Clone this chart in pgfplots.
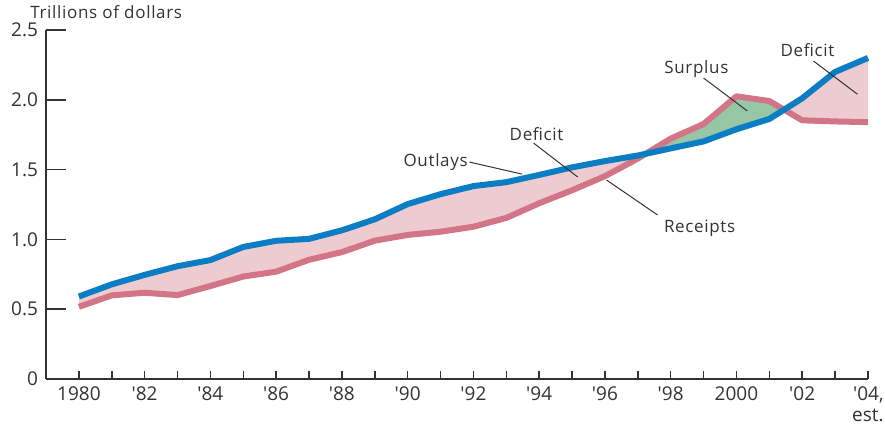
\documentclass[border=0pt]{standalone}
\usepackage{fontspec}
\setmainfont{Open Sans}[LetterSpace=4]
\newfontfamily\tickfont{Open Sans}
\usepackage{pgfplots}
\pgfplotsset{compat=1.18}
\usepackage{pgfplotstable}
\usepgfplotslibrary{fillbetween}
\definecolor{outblue}{HTML}{0A7DC4}
\definecolor{recred}{HTML}{D27587}
\definecolor{defpink}{HTML}{EDCBD0}
\definecolor{surgreen}{HTML}{97C6A7}
\definecolor{axgray}{HTML}{333333}
\newcommand{\ap}{\textquotesingle}

% federal outlays and receipts, trillions of dollars
\pgfplotstableread{
year outlays receipts
1980 0.591 0.517
1981 0.678 0.599
1982 0.746 0.618
1983 0.808 0.601
1984 0.852 0.666
1985 0.946 0.734
1986 0.990 0.769
1987 1.004 0.854
1988 1.065 0.909
1989 1.144 0.991
1990 1.253 1.032
1991 1.324 1.055
1992 1.382 1.091
1993 1.410 1.154
1994 1.462 1.259
1995 1.516 1.352
1996 1.561 1.453
1997 1.601 1.579
1998 1.652 1.722
1999 1.702 1.827
2000 1.789 2.025
2001 1.863 1.991
2002 2.011 1.853
2003 2.200 1.845
2004 2.300 1.840
}\budget

\begin{document}
\fontsize{8.5}{10}\selectfont
\begin{tikzpicture}
\begin{axis}[
    name=ax,
    scale only axis,
    width=411pt, height=174.5pt,
    xmin=1979, xmax=2004,
    ymin=0, ymax=2.5,
    axis lines=left,
    axis line style={axgray, line width=0.75pt, -},
    tick style={axgray, line width=0.75pt},
    tick align=inside,
    xtick={1980,...,2004},
    xticklabels={1980,,\ap82,,\ap84,,\ap86,,\ap88,,\ap90,,\ap92,,\ap94,,\ap96,,\ap98,,2000,,\ap02,,{\ap04,\\\hfill est.}},
    xticklabel style={align=right, font=\tickfont\fontsize{9.5}{10.5}\selectfont, yshift=-1pt, text=axgray},
    xtick style={/pgfplots/major tick length=4pt},
    ytick={0,0.5,1,1.5,2,2.5},
    yticklabels={0,0.5,1.0,1.5,2.0,2.5},
    ytick style={/pgfplots/major tick length=10pt},
    yticklabel style={font=\tickfont\fontsize{9.5}{10.5}\selectfont, xshift=-1pt, text=axgray},
    clip=false,
]
\addplot[name path=out, draw=none] table[x=year, y=outlays] {\budget};
\addplot[name path=rec, draw=none] table[x=year, y=receipts] {\budget};
\addplot[fill=defpink, draw=none] fill between[of=out and rec, split,
    every segment no 1/.style={fill=surgreen}];

\addplot[recred, line width=3pt, line join=round] table[x=year, y=receipts] {\budget};
\addplot[outblue, line width=3pt, line join=round] table[x=year, y=outlays] {\budget};

% leaders and labels
\draw[axgray, line width=0.5pt] (axis cs:1991.88,1.554) -- (axis cs:1993.47,1.468);
\draw[axgray, line width=0.5pt] (axis cs:1993.83,1.69) -- (axis cs:1995.17,1.447);
\draw[axgray, line width=0.5pt] (axis cs:1996.05,1.425) -- (axis cs:1997.6,1.175);
\draw[axgray, line width=0.5pt] (axis cs:1999.0,2.156) -- (axis cs:2000.33,1.92);
\draw[axgray, line width=0.5pt] (axis cs:2002.34,2.278) -- (axis cs:2003.68,2.04);
\node[text=axgray] at (axis cs:1990.85,1.554) {Outlays};
\node[text=axgray] at (axis cs:1993.92,1.755) {Deficit};
\node[text=axgray] at (axis cs:1998.88,1.082) {Receipts};
\node[text=axgray] at (axis cs:1998.78,2.22) {Surplus};
\node[text=axgray] at (axis cs:2002.16,2.357) {Deficit};
\node[anchor=base west, inner sep=0pt, text=axgray] at ([xshift=-8pt, yshift=6pt]rel axis cs:0,1) {Trillions of dollars};
\end{axis}
\pgfresetboundingbox
\path (ax.south west) ++(-23pt,-25.5pt) rectangle ++(442.5pt,215pt);
\end{tikzpicture}
\end{document}
